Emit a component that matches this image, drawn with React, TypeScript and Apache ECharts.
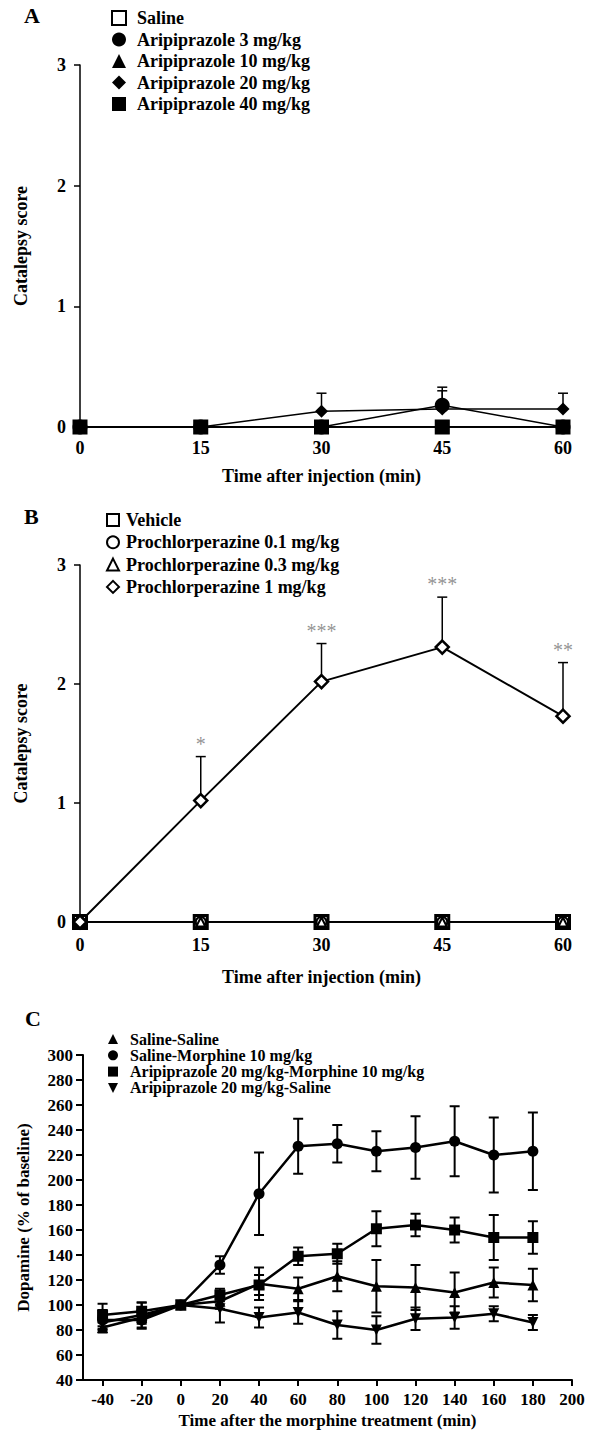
import React, { useEffect, useRef } from "react";
import * as echarts from "echarts";

const FONT = '"Liberation Serif", "Times New Roman", serif';

// Panel A
const timesAB = [0, 15, 30, 45, 60];
const aSaline = [0, 0, 0, 0, 0];
const aAri3 = [0, 0, 0, 0.18, 0];
const aAri3Err = [0, 0, 0, 0.15, 0];
const aAri10 = [0, 0, 0, 0, 0];
const aAri20 = [0, 0, 0.13, 0.15, 0.15];
const aAri20Err = [0, 0, 0.15, 0.15, 0.13];
const aAri40 = [0, 0, 0, 0, 0];

// Panel B
const bVehicle = [0, 0, 0, 0, 0];
const bP01 = [0, 0, 0, 0, 0];
const bP03 = [0, 0, 0, 0, 0];
const bP1 = [0, 1.02, 2.02, 2.31, 1.73];
const bP1Err = [0, 0.37, 0.32, 0.42, 0.45];
const bStars = ["", "*", "***", "***", "**"];

// Panel C
const timesC = [-40, -20, 0, 20, 40, 60, 80, 100, 120, 140, 160, 180];
const cSalSal = [82, 90, 100, 103, 117, 113, 123, 115, 114, 110, 118, 116];
const cSalSalErr = [4, 5, 0, 6, 13, 9, 12, 21, 18, 16, 12, 13];
const cSalMor = [88, 88, 100, 132, 189, 227, 229, 223, 226, 231, 220, 223];
const cSalMorErr = [8, 7, 0, 7, 33, 22, 15, 16, 25, 28, 30, 31];
const cAriMor = [92, 95, 100, 108, 116, 139, 141, 161, 164, 160, 154, 154];
const cAriMorErr = [9, 7, 0, 5, 8, 7, 8, 14, 9, 10, 18, 13];
const cAriSal = [86, 92, 100, 97, 90, 94, 84, 80, 89, 90, 93, 86];
const cAriSalErr = [5, 10, 0, 11, 8, 9, 11, 11, 9, 9, 6, 6];
const cTicks = [-40, -20, 0, 20, 40, 60, 80, 100, 120, 140, 160, 180, 200];

const INV_TRI = "path://M0,0 L10,0 L5,10 Z";
const STAR_COLOR = "#777";

const pairs = (xs: number[], ys: number[]) => xs.map((x, i) => [x, ys[i]]);

function errData(xs: number[], ys: number[], es: number[], twoSided: boolean) {
  return xs
    .map((x, i) => [x, twoSided ? ys[i] - es[i] : ys[i], ys[i] + es[i], twoSided ? 1 : 0])
    .filter((d, i) => es[i] > 0);
}

function errSeries(grid: number, data: number[][], cap: number, lw: number) {
  return {
    type: "custom",
    xAxisIndex: grid,
    yAxisIndex: grid,
    z: 1,
    silent: true,
    data,
    encode: { x: 0, y: [1, 2] },
    renderItem: (params: any, api: any) => {
      const x = api.value(0);
      const lo = api.value(1);
      const hi = api.value(2);
      const two = api.value(3);
      const p1 = api.coord([x, lo]);
      const p2 = api.coord([x, hi]);
      const style = { stroke: "#000", lineWidth: lw, fill: "none" };
      const children: any[] = [
        { type: "line", shape: { x1: p1[0], y1: p1[1], x2: p2[0], y2: p2[1] }, style },
        { type: "line", shape: { x1: p2[0] - cap, y1: p2[1], x2: p2[0] + cap, y2: p2[1] }, style },
      ];
      if (two) {
        children.push({ type: "line", shape: { x1: p1[0] - cap, y1: p1[1], x2: p1[0] + cap, y2: p1[1] }, style });
      }
      return { type: "group", children };
    },
  };
}

function lineSeries(name: string, grid: number, xs: number[], ys: number[], symbol: string, size: number, open: boolean, lw: number, bw = 2) {
  return {
    type: "line",
    name,
    xAxisIndex: grid,
    yAxisIndex: grid,
    data: pairs(xs, ys),
    symbol,
    symbolSize: size,
    showAllSymbol: true,
    z: 3,
    lineStyle: { color: "#000", width: lw },
    itemStyle: open
      ? { color: "#fff", borderColor: "#000", borderWidth: bw }
      : { color: "#000", borderColor: "#000", borderWidth: 0 },
  };
}

const labelStyle = { fontFamily: FONT, fontWeight: "bold" as const, fontSize: 18, color: "#000" };

function catXAxis(grid: number, margin: number, gap: number) {
  return {
    gridIndex: grid,
    type: "value",
    min: 0,
    max: 60,
    interval: 15,
    name: "Time after injection (min)",
    nameLocation: "middle",
    nameGap: gap,
    nameTextStyle: { ...labelStyle },
    axisLine: { show: true, lineStyle: { color: "#000", width: 1.5 } },
    axisTick: { show: true, length: 4, lineStyle: { color: "#000", width: 1.5 } },
    axisLabel: { ...labelStyle, margin },
    splitLine: { show: false },
  };
}

function catYAxis(grid: number) {
  return {
    gridIndex: grid,
    type: "value",
    min: 0,
    max: 3,
    interval: 1,
    name: "Catalepsy score",
    nameLocation: "middle",
    nameGap: 50,
    nameTextStyle: { ...labelStyle },
    axisLine: { show: true, onZero: false, lineStyle: { color: "#000", width: 1.5 } },
    axisTick: { show: true, length: 6, lineStyle: { color: "#000", width: 1.5 } },
    axisLabel: { ...labelStyle, margin: 14 },
    splitLine: { show: false },
  };
}

function legendCfg(left: number, top: number, gap: number, size: number, fontSize: number, pad: number, data: any[]) {
  return {
    orient: "vertical",
    left,
    top,
    itemWidth: size,
    itemHeight: size,
    itemGap: gap,
    selectedMode: false,
    padding: 0,
    textStyle: { ...labelStyle, fontSize, padding: [0, 0, 0, pad] },
    data,
  };
}

export default function App() {
  const ref = useRef<HTMLDivElement>(null);
  useEffect(() => {
    if (!ref.current) return;
    const chart = echarts.init(ref.current, undefined, { renderer: "svg" });
    const starLabel = { fontFamily: FONT, fontSize: 20, color: STAR_COLOR, position: "top", distance: 2 };
    const option: any = {
      animation: false,
      backgroundColor: "#fff",
      grid: [
        { left: 80, top: 65, width: 483, height: 362 },
        { left: 80, top: 565, width: 483, height: 357 },
        { left: 83, top: 1055, width: 489, height: 325 },
      ],
      title: [
        { text: "A", left: 24, top: 4, padding: 0, textStyle: { ...labelStyle, fontSize: 22 } },
        { text: "B", left: 24, top: 505, padding: 0, textStyle: { ...labelStyle, fontSize: 22 } },
        { text: "C", left: 25, top: 1007, padding: 0, textStyle: { ...labelStyle, fontSize: 22 } },
      ],
      legend: [
        legendCfg(111, 9, 3.5, 14, 18, 6, [
          { name: "Saline", icon: "rect" },
          { name: "Aripiprazole 3 mg/kg", icon: "circle" },
          { name: "Aripiprazole 10 mg/kg", icon: "triangle" },
          { name: "Aripiprazole 20 mg/kg", icon: "diamond" },
          { name: "Aripiprazole 40 mg/kg", icon: "rect" },
        ]),
        legendCfg(106, 511, 4.3, 12, 18, 2, [
          { name: "Vehicle", icon: "rect" },
          { name: "Prochlorperazine 0.1 mg/kg", icon: "circle" },
          { name: "Prochlorperazine 0.3 mg/kg", icon: "triangle" },
          { name: "Prochlorperazine 1 mg/kg", icon: "diamond" },
        ]),
        legendCfg(108, 1031, 0.3, 10, 16, 7, [
          { name: "Saline-Saline", icon: "triangle" },
          { name: "Saline-Morphine 10 mg/kg", icon: "circle" },
          { name: "Aripiprazole 20 mg/kg-Morphine 10 mg/kg", icon: "rect" },
          { name: "Aripiprazole 20 mg/kg-Saline", icon: INV_TRI },
        ]),
      ],
      xAxis: [
        catXAxis(0, 12, 40),
        catXAxis(1, 14, 46),
        {
          gridIndex: 2,
          type: "value",
          min: -50,
          max: 200,
          name: "Time after the morphine treatment (min)",
          nameLocation: "middle",
          nameGap: 32,
          nameTextStyle: { ...labelStyle, fontSize: 17 },
          axisLine: { show: true, onZero: false, lineStyle: { color: "#000", width: 2 } },
          axisTick: { show: true, length: 6, customValues: cTicks, lineStyle: { color: "#000", width: 2 } },
          axisLabel: { ...labelStyle, fontSize: 17, margin: 11, customValues: cTicks },
          splitLine: { show: false },
        },
      ],
      yAxis: [
        catYAxis(0),
        catYAxis(1),
        {
          gridIndex: 2,
          type: "value",
          min: 40,
          max: 300,
          interval: 20,
          name: "Dopamine (% of baseline)",
          nameLocation: "middle",
          nameGap: 51,
          nameTextStyle: { ...labelStyle, fontSize: 17 },
          axisLine: { show: true, onZero: false, lineStyle: { color: "#000", width: 2 } },
          axisTick: { show: true, length: 7, lineStyle: { color: "#000", width: 2 } },
          axisLabel: { ...labelStyle, fontSize: 17, margin: 10 },
          splitLine: { show: false },
        },
      ],
      series: [
        // Panel A
        errSeries(0, errData(timesAB, aAri20, aAri20Err, false), 5, 1.5),
        errSeries(0, errData(timesAB, aAri3, aAri3Err, false), 5, 1.5),
        lineSeries("Saline", 0, timesAB, aSaline, "rect", 13, true, 1.5),
        lineSeries("Aripiprazole 10 mg/kg", 0, timesAB, aAri10, "triangle", 13, false, 1.5),
        lineSeries("Aripiprazole 20 mg/kg", 0, timesAB, aAri20, "diamond", 13, false, 1.5),
        lineSeries("Aripiprazole 3 mg/kg", 0, timesAB, aAri3, "circle", 15, false, 1.5),
        lineSeries("Aripiprazole 40 mg/kg", 0, timesAB, aAri40, "rect", 14, false, 1.5),
        // Panel B
        errSeries(1, errData(timesAB, bP1, bP1Err, false), 5, 1.5),
        lineSeries("Vehicle", 1, timesAB, bVehicle, "rect", 13, true, 1.5, 3),
        lineSeries("Prochlorperazine 0.1 mg/kg", 1, timesAB, bP01, "circle", 10, true, 1.5, 2),
        lineSeries("Prochlorperazine 0.3 mg/kg", 1, timesAB, bP03, "triangle", 9, true, 1.5, 2),
        lineSeries("Prochlorperazine 1 mg/kg", 1, timesAB, bP1, "diamond", 13, true, 2, 2.5),
        {
          type: "scatter",
          xAxisIndex: 1,
          yAxisIndex: 1,
          silent: true,
          symbolSize: 2,
          z: 4,
          itemStyle: { color: "rgba(0,0,0,0)" },
          data: timesAB.map((t, i) => ({
            value: [t, bP1[i] + bP1Err[i]],
            label: { ...starLabel, show: bStars[i] !== "", formatter: bStars[i] },
          })),
          label: { ...starLabel, show: true },
        },
        // Panel C
        errSeries(2, errData(timesC, cSalSal, cSalSalErr, true), 5, 2),
        errSeries(2, errData(timesC, cSalMor, cSalMorErr, true), 5, 2),
        errSeries(2, errData(timesC, cAriMor, cAriMorErr, true), 5, 2),
        errSeries(2, errData(timesC, cAriSal, cAriSalErr, true), 5, 2),
        lineSeries("Saline-Saline", 2, timesC, cSalSal, "triangle", 11, false, 2.5),
        lineSeries("Saline-Morphine 10 mg/kg", 2, timesC, cSalMor, "circle", 11, false, 2.5),
        lineSeries("Aripiprazole 20 mg/kg-Morphine 10 mg/kg", 2, timesC, cAriMor, "rect", 11, false, 2.5),
        lineSeries("Aripiprazole 20 mg/kg-Saline", 2, timesC, cAriSal, INV_TRI, 11, false, 2.5),
      ],
    };
    chart.setOption(option);
    return () => chart.dispose();
  }, []);
  return (
    <div
      ref={ref}
      style={{ position: "absolute", left: 0, top: 0, width: 589, height: 1437, background: "#fff" }}
    />
  );
}
